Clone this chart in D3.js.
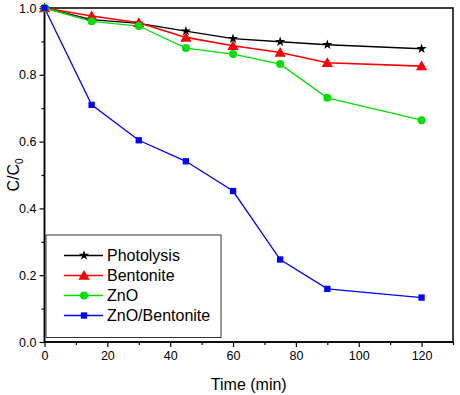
<!DOCTYPE html>
<html>
<head>
<meta charset="utf-8">
<script src="https://cdn.jsdelivr.net/npm/d3@7"></script>
<style>
body { margin: 0; background: #fff; }
</style>
</head>
<body>
<div id="chart"></div>
<script>
const width = 460;
const height = 395;
const margin = { top: 8, right: 7, bottom: 53, left: 44.5 };

const times = [0, 15, 30, 45, 60, 75, 90, 120];
const photolysis = [1.0, 0.965, 0.954, 0.931, 0.908, 0.899, 0.89, 0.878];
const bentonite = [1.0, 0.976, 0.956, 0.912, 0.887, 0.867, 0.836, 0.826];
const zno = [1.0, 0.96, 0.946, 0.88, 0.862, 0.832, 0.731, 0.664];
const znoBentonite = [1.0, 0.71, 0.604, 0.541, 0.452, 0.247, 0.159, 0.133];

const seriesNames = ["Photolysis", "Bentonite", "ZnO", "ZnO/Bentonite"];
const seriesValues = [photolysis, bentonite, zno, znoBentonite];
const seriesColors = ["#000000", "#ff0000", "#00e000", "#0000ff"];
const seriesSymbols = [d3.symbolStar, d3.symbolTriangle, d3.symbolCircle, d3.symbolSquare];
const symbolSizes = [32, 55, 50, 40];

const xTicks = [0, 20, 40, 60, 80, 100, 120];
const yTicks = [0.0, 0.2, 0.4, 0.6, 0.8, 1.0];

const svg = d3.select("#chart").append("svg")
	.attr("width", width)
	.attr("height", height)
	.style("font-family", "'Liberation Sans', Arial, sans-serif");

const x = d3.scaleLinear()
	.domain([0, 130])
	.range([margin.left, width - margin.right]);

const y = d3.scaleLinear()
	.domain([0, 1.0])
	.range([height - margin.bottom, margin.top]);

// frame
svg.append("rect")
	.attr("x", x(0))
	.attr("y", y(1))
	.attr("width", x(130) - x(0))
	.attr("height", y(0) - y(1))
	.attr("fill", "none")
	.attr("stroke", "#000")
	.attr("stroke-width", 1.5);

// minor ticks
svg.append("g")
	.attr("transform", `translate(0,${y(0)})`)
	.call(d3.axisBottom(x).tickValues(d3.range(10, 131, 20)).tickSize(3).tickFormat(""))
	.call(g => g.select(".domain").remove());
svg.append("g")
	.attr("transform", `translate(${x(0)},0)`)
	.call(d3.axisLeft(y).tickValues([0.1, 0.3, 0.5, 0.7, 0.9]).tickSize(3).tickFormat(""))
	.call(g => g.select(".domain").remove());

// major axes
const xAxis = svg.append("g")
	.attr("transform", `translate(0,${y(0)})`)
	.call(d3.axisBottom(x).tickValues(xTicks).tickSize(5).tickPadding(4).tickFormat(d3.format("d")));
xAxis.select(".domain").attr("stroke-width", 1.5).attr("d", `M${x(0)},0H${x(130)}`);
xAxis.selectAll("text").style("font-size", "12.5px").attr("fill", "#000");

const yAxis = svg.append("g")
	.attr("transform", `translate(${x(0)},0)`)
	.call(d3.axisLeft(y).tickValues(yTicks).tickSize(5).tickPadding(3).tickFormat(d3.format(".1f")));
yAxis.select(".domain").attr("stroke-width", 1.5).attr("d", `M0,${y(0)}V${y(1)}`);
yAxis.selectAll("text").style("font-size", "12.5px").attr("fill", "#000");

svg.selectAll(".tick line").attr("stroke-width", 1.2);

// axis titles
svg.append("text")
	.attr("x", (x(0) + x(130)) / 2)
	.attr("y", 390)
	.attr("text-anchor", "middle")
	.style("font-size", "16px")
	.text("Time (min)");

const yTitle = svg.append("text")
	.attr("transform", `translate(19,${(y(0) + y(1)) / 2}) rotate(-90)`)
	.attr("text-anchor", "middle")
	.style("font-size", "16px");
yTitle.append("tspan").text("C/C");
yTitle.append("tspan").attr("dy", 4).style("font-size", "10px").text("0");

// series
const line = d3.line()
	.x((d, i) => x(times[i]))
	.y(d => y(d));

seriesValues.forEach((vals, k) => {
	svg.append("path")
		.datum(vals)
		.attr("fill", "none")
		.attr("stroke", seriesColors[k])
		.attr("stroke-width", k === 1 ? 1.6 : 1.3)
		.attr("d", line);
});

seriesValues.forEach((vals, k) => {
	svg.append("g")
		.selectAll("path")
		.data(vals)
		.join("path")
		.attr("transform", (d, i) => `translate(${x(times[i])},${y(d) + (k === 1 ? 1 : 0)})`)
		.attr("d", d3.symbol().type(seriesSymbols[k]).size(symbolSizes[k]))
		.attr("fill", seriesColors[k]);
});

// legend
const legend = svg.append("g");
legend.append("rect")
	.attr("x", 46)
	.attr("y", 235)
	.attr("width", 175)
	.attr("height", 102.5)
	.attr("fill", "#fff")
	.attr("stroke", "#333")
	.attr("stroke-width", 1);

seriesNames.forEach((name, k) => {
	const ly = 255.5 + k * 20;
	legend.append("line")
		.attr("x1", 64).attr("x2", 103)
		.attr("y1", ly).attr("y2", ly)
		.attr("stroke", seriesColors[k])
		.attr("stroke-width", 1.5);
	legend.append("path")
		.attr("transform", `translate(84,${ly + (k === 1 ? 1 : 0)})`)
		.attr("d", d3.symbol().type(seriesSymbols[k]).size(symbolSizes[k]))
		.attr("fill", seriesColors[k]);
	legend.append("text")
		.attr("x", 107)
		.attr("y", ly + 5.5)
		.style("font-size", "16px")
		.text(name);
});
</script>
</body>
</html>
